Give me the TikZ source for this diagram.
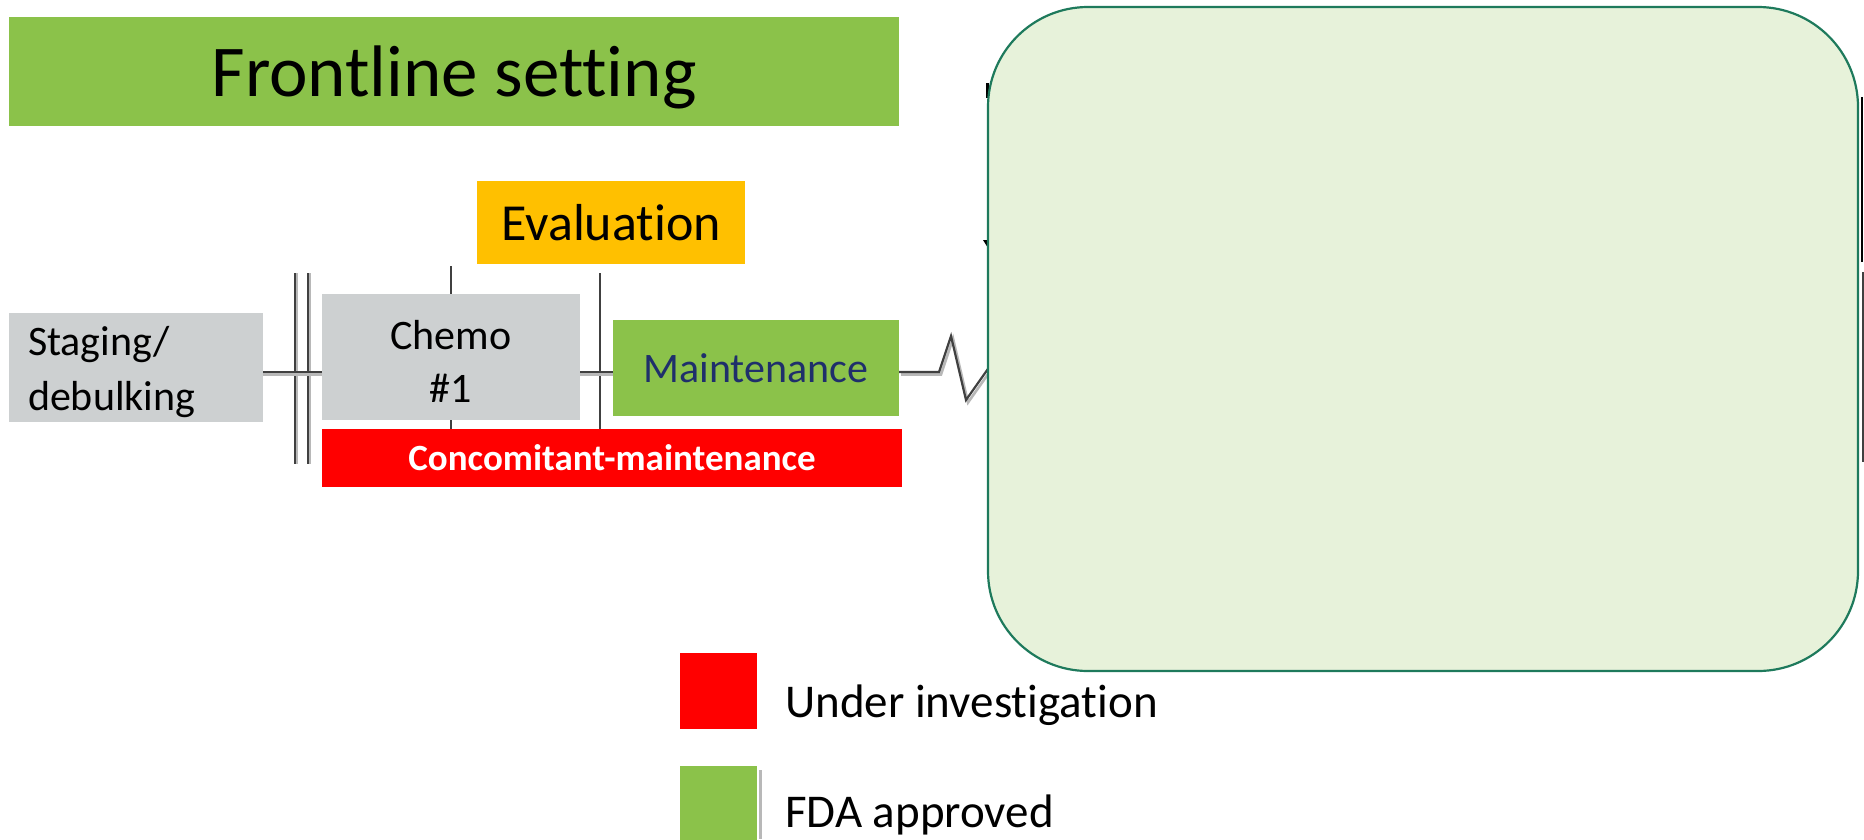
\documentclass[tikz,border=0pt]{standalone}
\usepackage{fontspec}
\setmainfont{Carlito}[Ligatures=NoCommon]
\definecolor{tgreen}{HTML}{8BC24A}
\definecolor{tgray}{HTML}{CDD0D1}
\definecolor{torange}{HTML}{FFC000}
\definecolor{tred}{HTML}{FF0000}
\definecolor{tnavy}{HTML}{1F2F6B}
\definecolor{lgfill}{HTML}{E7F2DA}
\definecolor{lgdraw}{HTML}{1E7A5C}
\definecolor{tline}{HTML}{404040}
\definecolor{tshadow}{HTML}{B8B8B8}
\tikzset{
  x=1pt, y=-1pt,
  boxnode/.style={rectangle, inner sep=0pt, outer sep=0pt, draw=none},
  tl/.style={draw=tline, line width=2.6pt},
  tlshadow/.style={draw=tshadow, line width=2.6pt},
  vbar/.style={draw=tline, line width=1.6pt},
  legtext/.style={anchor=west, inner sep=0pt, font=\fontsize{47}{56}\selectfont},
}
\begin{document}
\begin{tikzpicture}
\useasboundingbox (0,0) rectangle (1864,839);
% title
\node[boxnode, fill=tgreen, minimum width=890pt, minimum height=109pt] (title) at (454,71) {};
\node[inner sep=0pt, font=\fontsize{73}{80}\selectfont] (titletxt) at (454,77) {Frontline setting};
% coordinates for timeline
\coordinate (zz0) at (939,372);
\coordinate (zz1) at (951,336);
\coordinate (zz2) at (966,400);
\coordinate (zz3) at (990,366);
% vertical marks (behind boxes)
\coordinate (b1t) at (295,273); \coordinate (b1b) at (295,464);
\coordinate (b2t) at (308,273); \coordinate (b2b) at (308,464);
\coordinate (c1t) at (451,266); \coordinate (c1b) at (451,429);
\coordinate (e1t) at (600,273); \coordinate (e1b) at (600,429);
\draw[draw=tshadow, line width=1.6pt] ([xshift=2pt]b1t) -- ([xshift=2pt]b1b);
\draw[draw=tshadow, line width=1.6pt] ([xshift=2pt]b2t) -- ([xshift=2pt]b2b);
\draw[vbar] (b1t) -- (b1b);
\draw[vbar] (b2t) -- (b2b);
\draw[vbar] (c1t) -- (c1b);
\draw[vbar] (e1t) -- (e1b);
% boxes
\node[boxnode, fill=torange, minimum width=268pt, minimum height=83pt, font=\fontsize{52}{60}\selectfont] (eval) at (611,222.5) {Evaluation};
\node[boxnode, fill=tgray, minimum width=254pt, minimum height=109pt] (stage) at (136,367.5) {};
\node[inner sep=0pt, text width=216pt, align=left, font=\fontsize{42}{55}\selectfont] (stagetxt) at (136,372) {Staging/\\debulking};
\node[boxnode, fill=tgray, minimum width=258pt, minimum height=126pt] (chemo) at (451,357) {};
\node[inner sep=0pt, align=center, font=\fontsize{42}{53}\selectfont] (chemotxt) at (451,361) {Chemo\\\#1};
\node[boxnode, fill=tgreen, minimum width=286pt, minimum height=96pt, text=tnavy, font=\fontsize{42}{50}\selectfont] (maint) at (756,368) {Maintenance};
\node[boxnode, fill=tred, minimum width=580pt, minimum height=58pt, text=white, font=\bfseries\fontsize{37}{44}\selectfont] (conc) at (612,458) {Concomitant-maintenance};
% timeline segments
\draw[tlshadow] ([yshift=-2.5pt]stage.east |- 0,372) -- ([yshift=-2.5pt]chemo.west |- 0,372);
\draw[tl] (stage.east |- 0,372) -- (chemo.west |- 0,372);
\draw[tlshadow] ([yshift=-2.5pt]chemo.east |- 0,372) -- ([yshift=-2.5pt]maint.west |- 0,372);
\draw[tl] (chemo.east |- 0,372) -- (maint.west |- 0,372);
\draw[tlshadow, line join=miter] ([shift={(2pt,-2.5pt)}]maint.east |- 0,372) -- ([shift={(2pt,-2.5pt)}]zz0) -- ([shift={(2pt,-2.5pt)}]zz1) -- ([shift={(2pt,-2.5pt)}]zz2) -- ([shift={(2pt,-2.5pt)}]zz3);
\draw[draw=tline, line width=2.2pt, line join=miter] (maint.east |- 0,372) -- (zz0) -- (zz1) -- (zz2) -- (zz3);
% hidden slivers behind the rounded panel
\coordinate (s1t) at (987,83); \coordinate (s1b) at (987,98);
\draw[black, line width=3pt] (s1t) -- (s1b);
\coordinate (s2) at (986,240);
\fill[black] (s2) ++(-3,0) -- ++(6,0) -- ++(-1,8) -- cycle;
\coordinate (r1t) at (1862,97); \coordinate (r1b) at (1862,262);
\draw[black, line width=2.5pt] (r1t) -- (r1b);
\coordinate (r2t) at (1863,272); \coordinate (r2b) at (1863,462);
\draw[draw=tline, line width=1.2pt] (r2t) -- (r2b);
% rounded panel
\draw[draw=lgdraw, fill=lgfill, line width=2.2pt, rounded corners=100pt] (988,7) rectangle (1858,671);
\node[boxnode, minimum width=870pt, minimum height=664pt] (panel) at (1423,339) {};
% legend
\node[boxnode, fill=tred, minimum width=77pt, minimum height=76pt] (legred) at (718.5,691) {};
\node[legtext] (legredtxt) at (785,705) {Under investigation};
\fill[tshadow] (759,770) rectangle (762,839);
\node[boxnode, fill=tgreen, minimum width=77pt, minimum height=76pt] (leggreen) at (718.5,804) {};
\node[legtext] (leggreentxt) at (785,815) {FDA approved};
\end{tikzpicture}
\end{document}
